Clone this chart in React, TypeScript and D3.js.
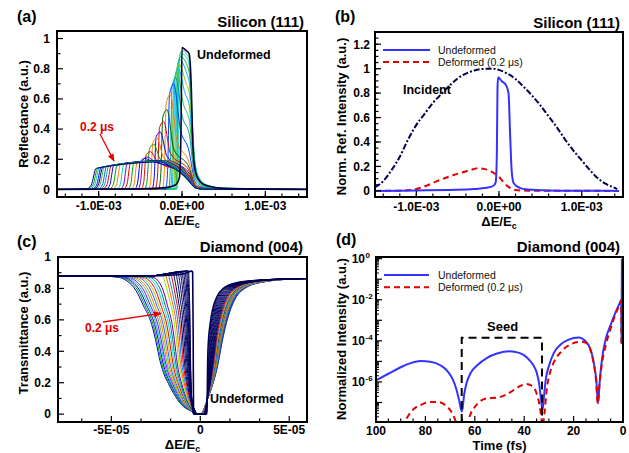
import React from "react";
import * as d3 from "d3";

const FONT = "'Liberation Sans', Arial, Helvetica, sans-serif";

// ---------- panel (a): Silicon (111) reflectance, x in units of 1e-3 ----------
// row: onset x, rise width, level after onset, peak x, peak y, y 0.08 after peak, y at right edge (x=0.09)
const reflRows = [
  [-1.03, 0.12, 0.14, -0.26, 0.182, 0.165, 0.05],
  [-1.01, 0.12, 0.142, -0.26, 0.184, 0.166, 0.05],
  [-0.99, 0.12, 0.144, -0.25, 0.186, 0.168, 0.052],
  [-0.97, 0.11, 0.146, -0.25, 0.188, 0.17, 0.054],
  [-0.95, 0.11, 0.148, -0.25, 0.19, 0.17, 0.056],
  [-0.93, 0.11, 0.15, -0.24, 0.19, 0.172, 0.058],
  [-0.905, 0.1, 0.152, -0.24, 0.19, 0.174, 0.06],
  [-0.88, 0.1, 0.154, -0.24, 0.19, 0.175, 0.062],
  [-0.85, 0.1, 0.156, -0.23, 0.19, 0.176, 0.064],
  [-0.82, 0.09, 0.158, -0.23, 0.19, 0.178, 0.066],
  [-0.78, 0.09, 0.16, -0.23, 0.19, 0.18, 0.068],
  [-0.74, 0.09, 0.163, -0.22, 0.19, 0.182, 0.07],
  [-0.7, 0.08, 0.166, -0.22, 0.19, 0.184, 0.072],
  [-0.66, 0.08, 0.168, -0.22, 0.19, 0.185, 0.075],
  [-0.62, 0.08, 0.17, -0.21, 0.19, 0.186, 0.078],
  [-0.58, 0.07, 0.173, -0.21, 0.19, 0.186, 0.08],
  [-0.54, 0.07, 0.176, -0.2, 0.192, 0.186, 0.082],
  [-0.5, 0.07, 0.185, -0.45, 0.205, 0.19, 0.085],
  [-0.47, 0.06, 0.195, -0.42, 0.215, 0.19, 0.088],
  [-0.43, 0.06, 0.23, -0.38, 0.25, 0.19, 0.09],
  [-0.39, 0.06, 0.27, -0.34, 0.3, 0.2, 0.095],
  [-0.35, 0.05, 0.31, -0.3, 0.34, 0.21, 0.1],
  [-0.31, 0.05, 0.35, -0.26, 0.38, 0.22, 0.105],
  [-0.27, 0.05, 0.41, -0.22, 0.45, 0.24, 0.12],
  [-0.23, 0.05, 0.48, -0.18, 0.53, 0.27, 0.14],
  [-0.19, 0.045, 0.57, -0.14, 0.63, 0.32, 0.17],
  [-0.15, 0.045, 0.63, -0.1, 0.7, 0.4, 0.24],
  [-0.12, 0.04, 0.68, -0.075, 0.74, 0.48, 0.36],
  [-0.1, 0.04, 0.71, -0.06, 0.77, 0.56, 0.45],
  [-0.085, 0.04, 0.75, -0.045, 0.8, 0.64, 0.55],
  [-0.07, 0.035, 0.78, -0.035, 0.83, 0.71, 0.63],
  [-0.058, 0.035, 0.81, -0.025, 0.86, 0.77, 0.7],
  [-0.046, 0.03, 0.84, -0.017, 0.88, 0.82, 0.76],
  [-0.036, 0.03, 0.86, -0.01, 0.9, 0.86, 0.8],
  [-0.028, 0.03, 0.88, -0.005, 0.92, 0.88, 0.84],
];
const reflColors = [
  "#000080", "#00a000", "#00c0c0", "#0000ff", "#000060", "#40c040", "#0060ff", "#00a0a0",
  "#e00000", "#0000ff", "#00a000", "#ff8000", "#00d0d0", "#8000c0", "#e00000", "#00a000",
  "#ff8000", "#0000ff", "#8000c0", "#e00000", "#00a000", "#ff8000", "#0000ff", "#e00000",
  "#006000", "#ff8000", "#0040ff", "#00a0a0", "#40c040", "#00b0ff", "#80d000", "#00c0c0",
  "#20b020", "#00e0e0", "#60d060",
];
const reflUndeformed = [
  [-1.5, 0], [-0.5, 0.004], [-0.2, 0.012], [-0.08, 0.03], [-0.03, 0.08], [-0.012, 0.4],
  [0.0, 0.94], [0.04, 0.925], [0.085, 0.9], [0.11, 0.7], [0.13, 0.3], [0.16, 0.12],
  [0.22, 0.05], [0.3, 0.025], [0.5, 0.008], [1.5, 0],
];

// ---------- panel (b) ----------
const incX = [-1.5, -1.4, -1.3, -1.2, -1.1, -1.0, -0.9, -0.8, -0.7, -0.6, -0.5, -0.4, -0.3, -0.2, -0.1, 0, 0.1, 0.2, 0.3, 0.4, 0.5, 0.6, 0.7, 0.8, 0.9, 1.0, 1.1, 1.2, 1.3, 1.4, 1.43];
const incY = [0.03, 0.08, 0.17, 0.28, 0.42, 0.54, 0.63, 0.72, 0.79, 0.86, 0.92, 0.96, 0.985, 0.998, 1.0, 0.99, 0.96, 0.915, 0.85, 0.78, 0.7, 0.61, 0.52, 0.42, 0.33, 0.25, 0.17, 0.1, 0.055, 0.025, 0.015];
const undefBX = [-1.5, -1.0, -0.6, -0.3, -0.15, -0.07, -0.04, -0.026, -0.018, -0.01, 0.03, 0.08, 0.115, 0.135, 0.155, 0.18, 0.25, 0.35, 0.6, 1.0, 1.45];
const undefBY = [0.0, 0.003, 0.008, 0.015, 0.025, 0.04, 0.07, 0.3, 0.85, 0.93, 0.9, 0.87, 0.8, 0.45, 0.15, 0.06, 0.025, 0.012, 0.004, 0.001, 0];
const defBX = [-1.5, -1.2, -1.05, -0.95, -0.85, -0.75, -0.65, -0.55, -0.45, -0.35, -0.25, -0.18, -0.1, -0.05, 0.0, 0.05, 0.1, 0.15, 0.2, 0.3, 0.6, 1.45];
const defBY = [0, 0.002, 0.008, 0.025, 0.05, 0.08, 0.105, 0.13, 0.15, 0.17, 0.185, 0.18, 0.16, 0.14, 0.115, 0.075, 0.04, 0.018, 0.008, 0.003, 0.001, 0];

// ---------- panel (c): Diamond (004) transmittance, x in units of 1e-5 ----------
const transBase = 0.878;
// left-wing shape (u, fraction of base)
const wingU = [-3.2, -2.2, -1.7, -1.25, -0.8, -0.3, 0, 0.15, 0.4, 0.7, 1.0, 1.45, 2.0, 2.6];
const wingF = [1, 0.99, 0.96, 0.9, 0.79, 0.65, 0.5, 0.41, 0.3, 0.22, 0.15, 0.07, 0.025, 0.005];
// right-wing x positions at given levels, steep (undeformed side) and broad
const rightLevels = [0, 0.1, 0.3, 0.5, 0.65, 0.75, 0.8, 0.84, 0.86];
const rightInner = [0.38, 0.39, 0.42, 0.5, 0.68, 0.95, 1.3, 2.2, 4.5];
const rightOuter = [0.0, 0.42, 0.96, 1.3, 1.65, 2.05, 2.5, 3.5, 5.2];
// row: half-point x, width, overshoot, broadening
const transRows = [
  [-2.45, 0.95, 0, 1.0], [-2.38, 0.92, 0, 0.97], [-2.3, 0.9, 0, 0.95], [-2.22, 0.87, 0, 0.92],
  [-2.14, 0.84, 0, 0.9], [-2.05, 0.8, 0, 0.87], [-1.96, 0.77, 0, 0.85], [-1.87, 0.73, 0, 0.82],
  [-1.78, 0.7, 0, 0.8], [-1.69, 0.66, 0, 0.77], [-1.6, 0.62, 0, 0.74], [-1.51, 0.58, 0, 0.71],
  [-1.42, 0.54, 0, 0.68], [-1.33, 0.5, 0.005, 0.65], [-1.24, 0.46, 0.008, 0.62], [-1.15, 0.42, 0.01, 0.58],
  [-1.06, 0.38, 0.012, 0.55], [-0.98, 0.34, 0.015, 0.5], [-0.9, 0.3, 0.018, 0.45], [-0.83, 0.26, 0.02, 0.4],
  [-0.77, 0.22, 0.022, 0.35], [-0.72, 0.19, 0.025, 0.3], [-0.68, 0.16, 0.027, 0.25], [-0.64, 0.13, 0.03, 0.2],
  [-0.61, 0.1, 0.032, 0.15], [-0.58, 0.08, 0.033, 0.1], [-0.56, 0.06, 0.035, 0.05],
];
const transColors = [
  "#0000c0", "#00a000", "#0000ff", "#00c0c0", "#8000ff", "#40c040", "#ff8000", "#2060ff",
  "#c0c000", "#e00000", "#00e0e0", "#008080", "#6000a0", "#a0e000", "#ff6000", "#0080ff",
  "#e00000",
];
const transUndeformed = [
  [-8, 0.878], [-3, 0.879], [-1.5, 0.885], [-0.8, 0.897], [-0.5, 0.91], [-0.43, 0.905], [-0.4, 0.5],
  [-0.38, 0.02], [-0.36, 0], [0.36, 0], [0.39, 0.1], [0.41, 0.3], [0.45, 0.45], [0.55, 0.57],
  [0.7, 0.67], [0.95, 0.75], [1.3, 0.8], [2, 0.835], [3, 0.85], [4.5, 0.858], [6, 0.862],
];

// ---------- panel (d): time domain ----------
const tUndef = [100, 95, 90, 86, 82, 78, 74, 71, 69, 67.5, 66.3, 65.2, 64.3, 63.3, 61.5, 59, 55, 51, 46, 42, 39, 36.5, 35, 34, 33.2, 32.6, 32, 31.2, 30, 28, 25, 22, 18, 15, 13, 11.8, 10.8, 10.1, 9.4, 8.5, 7, 5, 3, 1.2, 0.75, 0.6, 0.45];
const iUndef = [1.2e-6, 2.5e-6, 5.2e-6, 8.2e-6, 1.05e-5, 9.5e-6, 6.5e-6, 3.3e-6, 1.4e-6, 4.5e-7, 1.2e-7, 3.5e-8, 2.5e-7, 9e-7, 3e-6, 6.5e-6, 1.5e-5, 2.4e-5, 3.1e-5, 2.6e-5, 1.6e-5, 7e-6, 3e-6, 9e-7, 1.5e-7, 4e-8, 2e-7, 1.5e-6, 6e-6, 2.6e-5, 7e-5, 1.15e-4, 1.45e-4, 9e-5, 3.5e-5, 8e-6, 1.2e-6, 9e-8, 1.2e-6, 1.3e-5, 1.2e-4, 6e-4, 2.5e-3, 7.5e-3, 1e-2, 8e-5, 1];
const tDef = [89.5, 87, 85, 82, 78, 75, 72, 69.5, 68, 67, 63, 62, 60, 58, 55, 51, 48, 45, 42, 39, 37, 35, 34, 33.2, 32.6, 31.8, 30.8, 29.5, 28, 25, 21, 17, 14.5, 13, 12, 11, 10.2, 9.5, 8.5, 7, 5, 3, 1.2, 0.75, 0.6];
const iDef = [6e-9, 2.2e-8, 4.5e-8, 7.5e-8, 1.05e-7, 1.05e-7, 7.5e-8, 3.5e-8, 1.5e-8, 7e-9, 7e-9, 2.2e-8, 6e-8, 1.1e-7, 1.6e-7, 1.7e-7, 2.2e-7, 3.5e-7, 6e-7, 8e-7, 6.5e-7, 2.8e-7, 1e-7, 2.5e-8, 7e-9, 3e-8, 5e-7, 3e-6, 9e-6, 3e-5, 7e-5, 9e-5, 7.5e-5, 3e-5, 1e-5, 1.5e-6, 9e-8, 8e-7, 8e-6, 6e-5, 4e-4, 2e-3, 6.5e-3, 9e-3, 7e-5];
const seedStart = 65.3;
const seedEnd = 32.8;
const seedTop = 1.4e-4;

const RED = "#e00000";
const BLUE = "#3333ff";

type Pt = [number, number];
const zip = (xs: number[], ys: number[]): Pt[] => xs.map((x, i) => [x, ys[i]]);

function reflKnots(r: number[]): Pt[] {
  const [xo, w, h0, xk, hk, hm, hd] = r;
  return [
    [-1.5, 0], [xo - w, 0.003], [xo - w / 2, 0.2 * h0], [xo, h0], [xk, hk], [xk + 0.08, hm],
    [0.09, hd], [0.12, 0.6 * hd], [0.15, 0.25 * hd], [0.2, 0.1 * hd], [0.3, 0.035 * hd],
    [0.5, 0.01 * hd], [1.5, 0],
  ];
}

function transKnots(r: number[]): Pt[] {
  const [c, s, ov, m] = r;
  const zL = -0.38 * (1 - m) - 0.02;
  const pts: Pt[] = [[-8, transBase]];
  if (ov > 0) {
    pts.push([-3, transBase]);
    pts.push([c - 1.6 * s, transBase + ov]);
  }
  wingU.forEach((u, i) => {
    const x = c + u * s;
    if (ov > 0 && u < -1.25) return;
    if (x >= zL - 0.05 || x <= pts[pts.length - 1][0]) return;
    const top = transBase + ov;
    const f = ov > 0 ? Math.min(1, wingF[i] / 0.96) : wingF[i];
    pts.push([x, top * f]);
  });
  pts.push([zL, 0]);
  rightLevels.forEach((lv, i) => {
    const x = rightInner[i] + m * (rightOuter[i] - rightInner[i]);
    if (x > pts[pts.length - 1][0]) pts.push([x, lv]);
  });
  pts.push([6, 0.863]);
  return pts;
}

interface Frame { x0: number; x1: number; y0: number; y1: number }

function Box({ f }: { f: Frame }) {
  return <rect x={f.x0} y={f.y0} width={f.x1 - f.x0} height={f.y1 - f.y0} fill="none" stroke="#000" strokeWidth={2} />;
}

function XTicks({ f, sx, major, minor, labels, labelY }: { f: Frame; sx: (v: number) => number; major: number[]; minor: number[]; labels: string[]; labelY: number }) {
  return (
    <g>
      {minor.map((v, i) => <line key={"m" + i} x1={sx(v)} x2={sx(v)} y1={f.y1} y2={f.y1 - 3.5} stroke="#000" strokeWidth={1.2} />)}
      {major.map((v, i) => <line key={"M" + i} x1={sx(v)} x2={sx(v)} y1={f.y1} y2={f.y1 - 6} stroke="#000" strokeWidth={1.2} />)}
      {major.map((v, i) => (
        <text key={"t" + i} x={sx(v)} y={labelY} textAnchor="middle" fontSize={12} fontWeight="bold">{labels[i]}</text>
      ))}
    </g>
  );
}

function YTicks({ f, sy, major, minor, labels, labelX }: { f: Frame; sy: (v: number) => number; major: number[]; minor: number[]; labels: string[]; labelX: number }) {
  return (
    <g>
      {minor.map((v, i) => <line key={"m" + i} x1={f.x0} x2={f.x0 + 3.5} y1={sy(v)} y2={sy(v)} stroke="#000" strokeWidth={1.2} />)}
      {major.map((v, i) => <line key={"M" + i} x1={f.x0} x2={f.x0 + 6} y1={sy(v)} y2={sy(v)} stroke="#000" strokeWidth={1.2} />)}
      {major.map((v, i) => (
        <text key={"t" + i} x={labelX} y={sy(v) + 4.3} textAnchor="end" fontSize={12} fontWeight="bold">{labels[i]}</text>
      ))}
    </g>
  );
}

function ClipRect({ id, f }: { id: string; f: Frame }) {
  return (
    <clipPath id={id}>
      <rect x={f.x0} y={f.y0} width={f.x1 - f.x0} height={f.y1 - f.y0} />
    </clipPath>
  );
}

const deltaTitle = (x: number, y: number) => (
  <text x={x} y={y} textAnchor="middle" fontSize={13} fontWeight="bold">
    ΔE/E<tspan fontSize={9} dy={3}>c</tspan>
  </text>
);

const fa: Frame = { x0: 57, x1: 307, y0: 31, y1: 197 };
const fb: Frame = { x0: 375, x1: 623, y0: 32, y1: 197 };
const fc: Frame = { x0: 58, x1: 307, y0: 257, y1: 422 };
const fd: Frame = { x0: 376, x1: 623, y0: 257, y1: 422 };

const siTicks = [-1, 0, 1];
const siLabels = ["-1.0E-03", "0.0E+00", "1.0E-03"];
const siMinor = d3.range(-14, 15, 2).map((v) => v / 10);
const reflTicks = [0, 0.2, 0.4, 0.6, 0.8, 1];
const reflLabels = ["0", "0.2", "0.4", "0.6", "0.8", "1"];
const normTicks = [0, 0.2, 0.4, 0.6, 0.8, 1, 1.2];
const normLabels = ["0", "0.2", "0.4", "0.6", "0.8", "1", "1.2"];
const diaTicks = [-5, 0, 5];
const diaLabels = ["-5E-05", "0", "5E-05"];
const timeTicks = [100, 80, 60, 40, 20, 0];
const timeLabels = ["100", "80", "60", "40", "20", "0"];
const decadeLabels = [0, -2, -4, -6];

function PanelA() {
  const sx = d3.scaleLinear().domain([-1.5, 1.5]).range([fa.x0, fa.x1]);
  const sy = d3.scaleLinear().domain([-0.05, 1.05]).range([fa.y1, fa.y0]);
  const line = d3.line<Pt>().x((d) => sx(d[0])).y((d) => sy(d[1])).curve(d3.curveMonotoneX);
  const order = reflRows.map((_, i) => i).reverse();
  return (
    <g>
      <g clipPath="url(#clipA)">
        {order.map((i) => (
          <path key={i} d={line(reflKnots(reflRows[i])) || ""} fill="none" stroke={reflColors[i % reflColors.length]} strokeWidth={1} />
        ))}
        <path d={line(reflUndeformed as Pt[]) || ""} fill="none" stroke="#000040" strokeWidth={1.6} />
      </g>
      <Box f={fa} />
      <XTicks f={fa} sx={sx} major={siTicks} minor={siMinor} labels={siLabels} labelY={209.5} />
      <YTicks f={fa} sy={sy} major={reflTicks} minor={[0.1, 0.3, 0.5, 0.7, 0.9]} labels={reflLabels} labelX={50} />
      {deltaTitle((fa.x0 + fa.x1) / 2, 224.5)}
      <text transform="translate(27.5,114) rotate(-90)" textAnchor="middle" fontSize={13} fontWeight="bold">Reflectance (a.u.)</text>
      <text x={17} y={22} fontSize={16} fontWeight="bold">(a)</text>
      <text x={304} y={26.5} textAnchor="end" fontSize={15} fontWeight="bold">Silicon (111)</text>
      <text x={197} y={58.5} fontSize={12.5} fontWeight="bold">Undeformed</text>
      <text x={80} y={131} fontSize={12} fontWeight="bold" fill={RED}>0.2 μs</text>
      <line x1={100} y1={134} x2={114} y2={161} stroke={RED} strokeWidth={1.3} markerEnd="url(#arrRed)" />
    </g>
  );
}

function PanelB() {
  const sx = d3.scaleLinear().domain([-1.5, 1.5]).range([fb.x0, fb.x1]);
  const sy = d3.scaleLinear().domain([-0.05, 1.3]).range([fb.y1, fb.y0]);
  const line = d3.line<Pt>().x((d) => sx(d[0])).y((d) => sy(d[1])).curve(d3.curveMonotoneX);
  return (
    <g>
      <g clipPath="url(#clipB)">
        <path d={line(zip(incX, incY)) || ""} fill="none" stroke="#000050" strokeWidth={2} strokeDasharray="6,2,2,2" />
        <path d={line(zip(defBX, defBY)) || ""} fill="none" stroke={RED} strokeWidth={2} strokeDasharray="6,4" />
        <path d={line(zip(undefBX, undefBY)) || ""} fill="none" stroke={BLUE} strokeWidth={2} />
      </g>
      <Box f={fb} />
      <XTicks f={fb} sx={sx} major={siTicks} minor={siMinor} labels={siLabels} labelY={211} />
      <YTicks f={fb} sy={sy} major={normTicks} minor={d3.range(0.05, 1.3, 0.05)} labels={normLabels} labelX={370} />
      {deltaTitle((fb.x0 + fb.x1) / 2, 225.5)}
      <text transform="translate(346,116.5) rotate(-90)" textAnchor="middle" fontSize={13} fontWeight="bold">Norm. Ref. Intensity (a.u.)</text>
      <text x={335} y={22} fontSize={16} fontWeight="bold">(b)</text>
      <text x={620} y={27.5} textAnchor="end" fontSize={15} fontWeight="bold">Silicon (111)</text>
      <line x1={383} x2={430} y1={50} y2={50} stroke={BLUE} strokeWidth={2} />
      <line x1={383} x2={430} y1={62} y2={62} stroke={RED} strokeWidth={2} strokeDasharray="6,4" />
      <text x={438} y={54} fontSize={10.5} fill="#111">Undeformed</text>
      <text x={438} y={66} fontSize={10.5} fill="#111">Deformed (0.2 μs)</text>
      <text x={403} y={93.5} fontSize={12.5} fontWeight="bold">Incident</text>
    </g>
  );
}

function PanelC() {
  const sx = d3.scaleLinear().domain([-8, 6]).range([fc.x0, fc.x1]);
  const sy = d3.scaleLinear().domain([-0.05, 1.0]).range([fc.y1, fc.y0]);
  const line = d3.line<Pt>().x((d) => sx(d[0])).y((d) => sy(d[1])).curve(d3.curveMonotoneX);
  const minor = d3.range(-20, 19, 5).map((v) => v / 3).filter((v) => Math.abs(v % 5) > 0.01);
  return (
    <g>
      <g clipPath="url(#clipC)">
        {transRows.map((r, i) => (
          <path key={i} d={line(transKnots(r)) || ""} fill="none"
            stroke={i < transColors.length ? transColors[i] : "#000060"} strokeWidth={1} />
        ))}
        <path d={line(transUndeformed as Pt[]) || ""} fill="none" stroke="#000050" strokeWidth={1.6} />
      </g>
      <Box f={fc} />
      <XTicks f={fc} sx={sx} major={diaTicks} minor={minor} labels={diaLabels} labelY={433.5} />
      <YTicks f={fc} sy={sy} major={reflTicks} minor={[0.1, 0.3, 0.5, 0.7, 0.9]} labels={reflLabels} labelX={51} />
      {deltaTitle((fc.x0 + fc.x1) / 2, 448.5)}
      <text transform="translate(27.5,333) rotate(-90)" textAnchor="middle" fontSize={13} fontWeight="bold">Transmittance (a.u.)</text>
      <text x={17} y={247} fontSize={16} fontWeight="bold">(c)</text>
      <text x={303} y={252} textAnchor="end" fontSize={15} fontWeight="bold">Diamond (004)</text>
      <text x={210} y={403} fontSize={12.5} fontWeight="bold">Undeformed</text>
      <text x={85} y={332} fontSize={12} fontWeight="bold" fill={RED}>0.2 μs</text>
      <line x1={103} y1={322} x2={161} y2={313.3} stroke={RED} strokeWidth={1.3} markerEnd="url(#arrRed)" />
    </g>
  );
}

function PanelD() {
  const sx = d3.scaleLinear().domain([100, 0]).range([fd.x0, fd.x1]);
  const sy = d3.scaleLog().domain([Math.pow(10, -7.95), Math.pow(10, 0.08)]).range([fd.y1, fd.y0]);
  const line = d3.line<Pt>().x((d) => sx(d[0])).y((d) => sy(d[1])).curve(d3.curveMonotoneX);
  const decades = d3.range(-7, 1);
  const sub: number[] = [];
  d3.range(-8, 0).forEach((e) => d3.range(2, 10).forEach((k) => sub.push(k * Math.pow(10, e))));
  const seedPath = `M${sx(seedStart)},${fd.y1} V${sy(seedTop)} H${sx(seedEnd)} V${fd.y1}`;
  return (
    <g>
      <g clipPath="url(#clipD)">
        <path d={line(zip(tUndef, iUndef)) || ""} fill="none" stroke={BLUE} strokeWidth={2} />
        <path d={line(zip(tDef, iDef)) || ""} fill="none" stroke={RED} strokeWidth={2} strokeDasharray="6,4" />
        <path d={seedPath} fill="none" stroke="#000" strokeWidth={2} strokeDasharray="8,5" />
      </g>
      <Box f={fd} />
      <XTicks f={fd} sx={sx} major={timeTicks} minor={d3.range(5, 100, 10).concat(d3.range(10, 100, 20))} labels={timeLabels} labelY={435} />
      {sub.filter((v) => v > sy.domain()[0]).map((v, i) => (
        <line key={"s" + i} x1={fd.x0} x2={fd.x0 + 3} y1={sy(v)} y2={sy(v)} stroke="#000" strokeWidth={1} />
      ))}
      {decades.map((e) => (
        <line key={"d" + e} x1={fd.x0} x2={fd.x0 + 6} y1={sy(Math.pow(10, e))} y2={sy(Math.pow(10, e))} stroke="#000" strokeWidth={1.2} />
      ))}
      {decadeLabels.map((e) => (
        <g key={"l" + e}>
          <text x={365} y={sy(Math.pow(10, e)) + 4.5} textAnchor="end" fontSize={12} fontWeight="bold">10</text>
          <text x={365.5} y={sy(Math.pow(10, e)) - 0.5} fontSize={8} fontWeight="bold">{String(e)}</text>
        </g>
      ))}
      <text x={(fd.x0 + fd.x1) / 2} y={449.5} textAnchor="middle" fontSize={13} fontWeight="bold">Time (fs)</text>
      <text transform="translate(346,339) rotate(-90)" textAnchor="middle" fontSize={13} fontWeight="bold">Normalized Intensity (a.u.)</text>
      <text x={336} y={245} fontSize={16} fontWeight="bold">(d)</text>
      <text x={620} y={252} textAnchor="end" fontSize={15} fontWeight="bold">Diamond (004)</text>
      <line x1={384} x2={429} y1={275} y2={275} stroke={BLUE} strokeWidth={2} />
      <line x1={384} x2={429} y1={287.3} y2={287.3} stroke={RED} strokeWidth={2} strokeDasharray="6,4" />
      <text x={438} y={279} fontSize={10.5} fill="#111">Undeformed</text>
      <text x={438} y={291.3} fontSize={10.5} fill="#111">Deformed (0.2 μs)</text>
      <text x={487} y={330.5} fontSize={13} fontWeight="bold">Seed</text>
    </g>
  );
}

export default function App() {
  return (
    <svg width={629} height={453} style={{ position: "absolute", left: 0, top: 0, background: "#fff" }} fontFamily={FONT}>
      <defs>
        <marker id="arrRed" viewBox="0 0 10 10" refX={9} refY={5} markerWidth={6} markerHeight={6} orient="auto">
          <path d="M0,1 L10,5 L0,9 z" fill={RED} />
        </marker>
        <ClipRect id="clipA" f={fa} />
        <ClipRect id="clipB" f={fb} />
        <ClipRect id="clipC" f={fc} />
        <ClipRect id="clipD" f={fd} />
      </defs>
      <PanelA />
      <PanelB />
      <PanelC />
      <PanelD />
    </svg>
  );
}
